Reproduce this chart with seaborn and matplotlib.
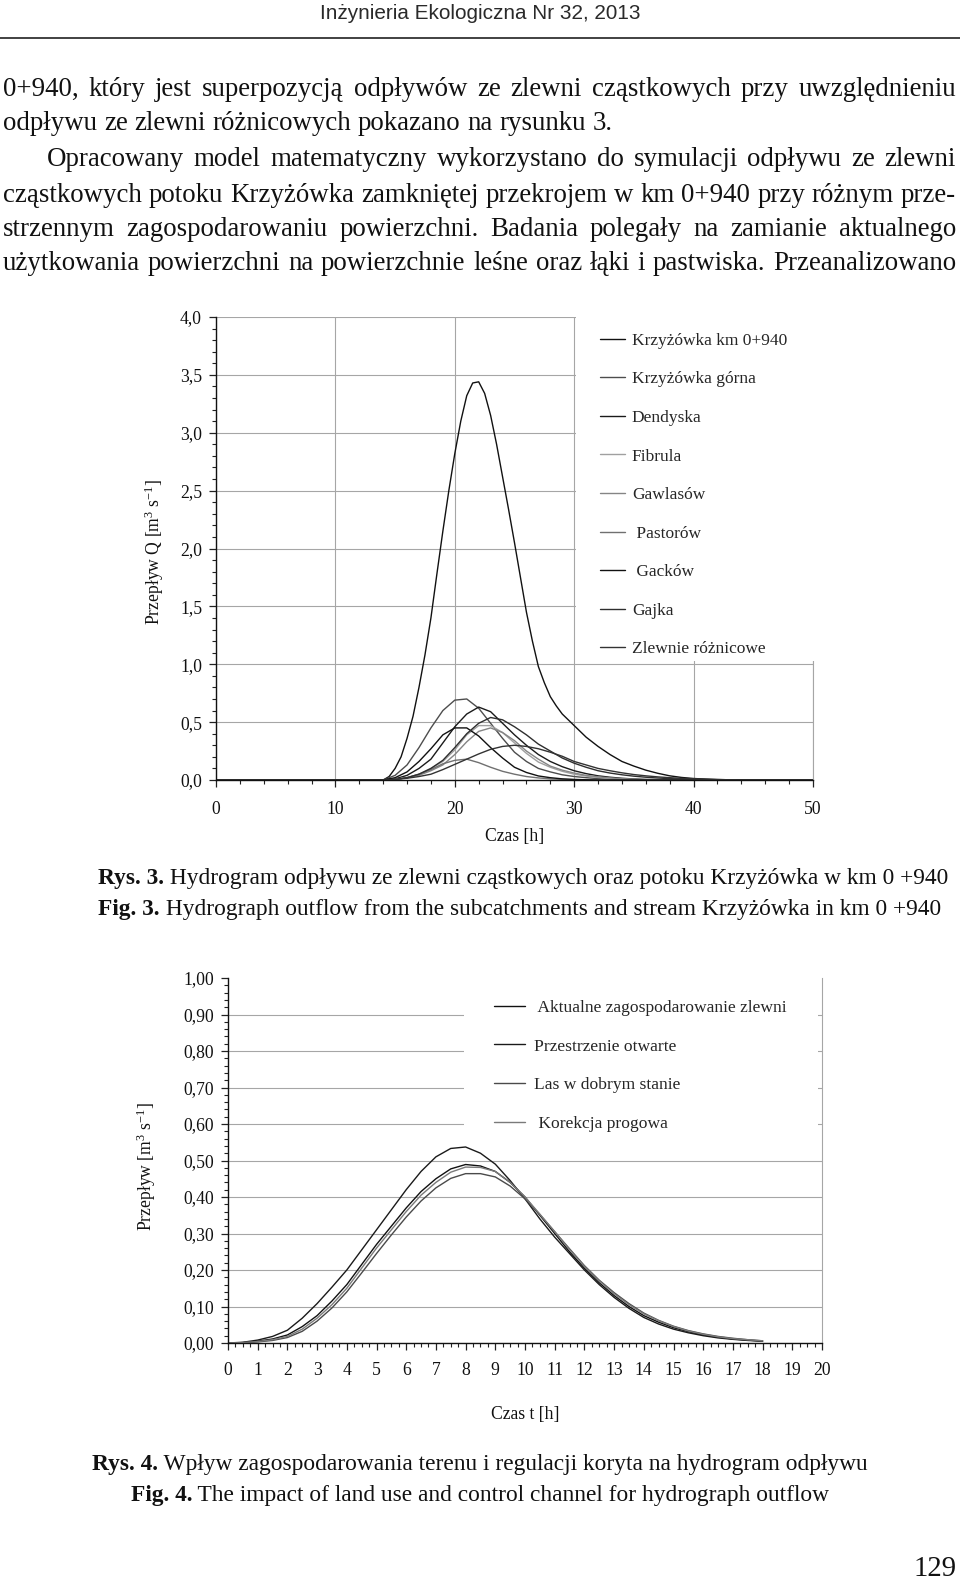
import numpy as np
import pandas as pd
import matplotlib
matplotlib.use("Agg")
import matplotlib.pyplot as plt
import seaborn as sns
from matplotlib.ticker import MultipleLocator, FuncFormatter
from matplotlib.patches import Rectangle
from matplotlib.lines import Line2D

# ---------------- data: Fig. 3 ----------------
T1 = [0, 13, 14, 15, 16, 17, 18, 19, 20, 21, 22, 23, 24, 25, 26, 27, 28, 29, 30,
      31, 32, 33, 34, 35, 36, 37, 38, 39, 40, 41, 42, 43, 44, 45, 50]
T1_MAIN = [0, 13, 14, 14.5, 15, 15.5, 16, 16.5, 17, 17.5, 18, 18.5, 19, 19.5, 20, 20.5, 21, 21.5, 22,
           22.5, 23, 23.5, 24, 24.5, 25, 25.5, 26, 26.5, 27, 27.5, 28, 28.5, 29, 29.5, 30,
           31, 32, 33, 34, 35, 36, 37, 38, 39, 40, 41, 42, 43, 44, 45, 50]
q_km0940 = [0, 0, 0, 0.03, 0.10, 0.20, 0.36, 0.55, 0.80, 1.08, 1.40, 1.78, 2.15, 2.50, 2.82, 3.10, 3.32, 3.43, 3.44,
            3.34, 3.15, 2.90, 2.62, 2.34, 2.05, 1.75, 1.45, 1.20, 0.98, 0.84, 0.72, 0.64, 0.57, 0.52, 0.47,
            0.37, 0.29, 0.22, 0.16, 0.12, 0.085, 0.058, 0.036, 0.022, 0.013, 0.008, 0.004, 0.002, 0, 0, 0]
q_gorna = [0, 0, 0, 0.04, 0.13, 0.28, 0.45, 0.60, 0.69, 0.70, 0.62, 0.49, 0.36, 0.24, 0.16, 0.10, 0.07, 0.045, 0.03,
           0.02, 0.012, 0.007, 0.004, 0.002, 0, 0, 0, 0, 0, 0, 0, 0, 0, 0, 0]
q_dendyska = [0, 0, 0, 0.01, 0.04, 0.10, 0.18, 0.32, 0.46, 0.57, 0.63, 0.59, 0.49, 0.39, 0.30, 0.22, 0.16, 0.115, 0.08,
              0.055, 0.036, 0.024, 0.015, 0.009, 0.005, 0.003, 0, 0, 0, 0, 0, 0, 0, 0, 0]
q_fibrula = [0, 0, 0, 0.005, 0.02, 0.05, 0.10, 0.16, 0.26, 0.39, 0.47, 0.47, 0.41, 0.32, 0.23, 0.155, 0.11, 0.075, 0.05,
             0.034, 0.022, 0.014, 0.008, 0.004, 0, 0, 0, 0, 0, 0, 0, 0, 0, 0, 0]
q_gawlasow = [0, 0, 0, 0.005, 0.02, 0.04, 0.08, 0.13, 0.22, 0.33, 0.42, 0.45, 0.41, 0.34, 0.25, 0.18, 0.12, 0.085, 0.06,
              0.04, 0.028, 0.018, 0.011, 0.006, 0.003, 0, 0, 0, 0, 0, 0, 0, 0, 0, 0]
q_pastorow = [0, 0, 0, 0.005, 0.02, 0.05, 0.09, 0.14, 0.17, 0.18, 0.15, 0.11, 0.075, 0.05, 0.03, 0.018, 0.01, 0.005, 0.002,
              0, 0, 0, 0, 0, 0, 0, 0, 0, 0, 0, 0, 0, 0, 0, 0]
q_gackow = [0, 0, 0, 0.02, 0.07, 0.16, 0.27, 0.39, 0.45, 0.45, 0.38, 0.28, 0.19, 0.11, 0.065, 0.035, 0.02, 0.01, 0.005,
            0.002, 0, 0, 0, 0, 0, 0, 0, 0, 0, 0, 0, 0, 0, 0, 0]
q_gajka = [0, 0, 0, 0.005, 0.02, 0.05, 0.10, 0.17, 0.28, 0.40, 0.49, 0.54, 0.52, 0.46, 0.39, 0.31, 0.25, 0.19, 0.145,
           0.11, 0.08, 0.06, 0.045, 0.033, 0.024, 0.017, 0.012, 0.008, 0.005, 0.003, 0, 0, 0, 0, 0]
q_roznicowe = [0, 0, 0, 0.005, 0.015, 0.03, 0.05, 0.09, 0.135, 0.18, 0.225, 0.265, 0.29, 0.30, 0.29, 0.27, 0.24, 0.205, 0.16,
               0.13, 0.10, 0.08, 0.062, 0.047, 0.036, 0.027, 0.02, 0.014, 0.01, 0.007, 0.004, 0.002, 0, 0, 0]
NAMES1 = ["Krzyżówka km 0+940", "Krzyżówka górna", "Dendyska", "Fibrula", "Gawlasów",
          " Pastorów", " Gacków", "Gajka", "Zlewnie różnicowe"]
SERIES1 = [q_km0940, q_gorna, q_dendyska, q_fibrula, q_gawlasow, q_pastorow, q_gackow, q_gajka, q_roznicowe]
TIMES1 = [T1_MAIN] + [T1] * 8
COLORS1 = ["#111111", "#4d4d4d", "#1a1a1a", "#a0a0a0", "#858585", "#707070", "#111111", "#2e2e2e", "#333333"]
XTICKS1 = [0, 10, 20, 30, 40, 50]
YTICKS1 = [0.0, 0.5, 1.0, 1.5, 2.0, 2.5, 3.0, 3.5, 4.0]

# ---------------- data: Fig. 4 ----------------
T2 = [0, 0.5, 1, 1.5, 2, 2.5, 3, 3.5, 4, 4.5, 5, 5.5, 6, 6.5, 7, 7.5, 8, 8.5, 9, 9.5, 10,
      10.5, 11, 11.5, 12, 12.5, 13, 13.5, 14, 14.5, 15, 15.5, 16, 16.5, 17, 17.5, 18]
q_aktualne = [0, 0.001, 0.005, 0.011, 0.022, 0.045, 0.075, 0.115, 0.16, 0.215, 0.27, 0.32, 0.37, 0.415, 0.45, 0.477,
              0.489, 0.485, 0.47, 0.44, 0.40, 0.35, 0.30, 0.25, 0.205, 0.165, 0.13, 0.10, 0.075, 0.057, 0.042, 0.031,
              0.022, 0.016, 0.011, 0.008, 0.005]
q_otwarte = [0, 0.002, 0.008, 0.018, 0.035, 0.068, 0.108, 0.153, 0.20, 0.255, 0.31, 0.365, 0.42, 0.47, 0.51, 0.533,
             0.537, 0.52, 0.49, 0.445, 0.395, 0.34, 0.29, 0.245, 0.20, 0.16, 0.125, 0.095, 0.07, 0.052, 0.038, 0.028,
             0.02, 0.014, 0.01, 0.007, 0.005]
q_las = [0, 0.001, 0.003, 0.007, 0.015, 0.032, 0.06, 0.096, 0.14, 0.192, 0.245, 0.296, 0.345, 0.389, 0.425, 0.451,
         0.464, 0.464, 0.455, 0.43, 0.395, 0.352, 0.305, 0.258, 0.212, 0.172, 0.138, 0.108, 0.082, 0.062, 0.046, 0.034,
         0.025, 0.018, 0.013, 0.009, 0.006]
q_korekcja = [0, 0.001, 0.004, 0.009, 0.018, 0.038, 0.068, 0.105, 0.15, 0.205, 0.26, 0.31, 0.36, 0.405, 0.44, 0.468,
              0.482, 0.481, 0.47, 0.44, 0.40, 0.353, 0.305, 0.256, 0.21, 0.17, 0.135, 0.105, 0.08, 0.061, 0.045, 0.033,
              0.024, 0.017, 0.012, 0.009, 0.006]
NAMES2 = [" Aktualne zagospodarowanie zlewni", "Przestrzenie otwarte", "Las w dobrym stanie", " Korekcja progowa"]
SERIES2 = [q_aktualne, q_otwarte, q_las, q_korekcja]
COLORS2 = ["#111111", "#1a1a1a", "#4a4a4a", "#7a7a7a"]
XTICKS2 = list(range(0, 21))
YTICKS2 = [0.0, 0.1, 0.2, 0.3, 0.4, 0.5, 0.6, 0.7, 0.8, 0.9, 1.0]

# ---------------- page texts ----------------
HEADER = "Inżynieria Ekologiczna Nr 32, 2013"
BODY = [
    ("0+940, który jest superpozycją odpływów ze zlewni cząstkowych przy uwzględnieniu", 3, True),
    ("odpływu ze zlewni różnicowych pokazano na rysunku 3.", 3, False),
    ("Opracowany model matematyczny wykorzystano do symulacji odpływu ze zlewni", 47, True),
    ("cząstkowych potoku Krzyżówka zamkniętej przekrojem w km 0+940 przy różnym prze-", 3, True),
    ("strzennym zagospodarowaniu powierzchni. Badania polegały na zamianie aktualnego", 3, True),
    ("użytkowania powierzchni na powierzchnie leśne oraz łąki i pastwiska. Przeanalizowano", 3, True),
]
CAP3 = [("Rys. 3.", " Hydrogram odpływu ze zlewni cząstkowych oraz potoku Krzyżówka w km 0 +940"),
        ("Fig. 3.", " Hydrograph outflow from the subcatchments and stream Krzyżówka in km 0 +940")]
CAP4 = [("Rys. 4.", " Wpływ zagospodarowania terenu i regulacji koryta na hydrogram odpływu"),
        ("Fig. 4.", " The impact of land use and control channel for hydrograph outflow")]
PAGE_NO = "129"

# ---------------- style ----------------
sns.set_style("ticks")
SERIF = ["Liberation Serif", "DejaVu Serif"]
SANS = ["Liberation Sans", "DejaVu Sans"]
plt.rcParams["font.family"] = SERIF
plt.rcParams["mathtext.fontset"] = "custom"
plt.rcParams["mathtext.rm"] = "Liberation Serif"
plt.rcParams["mathtext.it"] = "Liberation Serif:italic"
plt.rcParams["mathtext.bf"] = "Liberation Serif:bold"

W, H = 960, 1581
fig = plt.figure(figsize=(W / 100, H / 100), dpi=100)
fig.patch.set_facecolor("white")
renderer = fig.canvas.get_renderer()


def fx(x):
    return x / W


def fy(y):
    return 1 - y / H


def tw(s, size, weight="normal", family=SERIF):
    t = fig.text(0, 0, s, fontsize=size, fontweight=weight, family=family)
    w = t.get_window_extent(renderer=renderer).width
    t.remove()
    return w


TXT = "#111111"

# header
hs = 20 * 321 / tw(HEADER, 20, family=SANS)
fig.text(fx(480), fy(19), HEADER, fontsize=hs, family=SANS, ha="center", va="baseline", color="#2a2a2a")
fig.add_artist(Line2D([0, 1], [fy(37.5), fy(37.5)], transform=fig.transFigure, color="#333333", lw=1.3))

# body text, justified
X_RIGHT = 956
REF = 20
sp = tw("a a", REF) - tw("aa", REF)
fits = []
for s, x0, j in BODY:
    if j:
        words = s.split(" ")
        nat = sum(tw(w, REF) for w in words) + sp * (len(words) - 1)
        fits.append((X_RIGHT - x0) / nat)
bsize = REF * min(fits)
BASES = [96, 130, 166, 201.5, 236, 270.5]
for (s, x0, j), yb in zip(BODY, BASES):
    words = s.split(" ")
    ws = [tw(w, bsize) for w in words]
    if j:
        gap = (X_RIGHT - x0 - sum(ws)) / (len(words) - 1)
    else:
        gap = sp * bsize / REF
    x = x0
    for w, wd in zip(words, ws):
        fig.text(fx(x), fy(yb), w, fontsize=bsize, ha="left", va="baseline", color=TXT)
        x += wd + gap

# captions
b0, r0 = CAP3[0]
csize = REF * (946 - 98) / (tw(b0, REF, "bold") + tw(r0, REF))


def caption(bold, rest, y, x_left=None, x_center=None):
    wb = tw(bold, csize, "bold")
    wr = tw(rest, csize)
    if x_left is None:
        x_left = x_center - (wb + wr) / 2
    fig.text(fx(x_left), fy(y), bold, fontsize=csize, fontweight="bold", ha="left", va="baseline", color=TXT)
    fig.text(fx(x_left + wb), fy(y), rest, fontsize=csize, ha="left", va="baseline", color=TXT)


caption(*CAP3[0], 884, x_left=98)
caption(*CAP3[1], 915.5, x_left=98)
caption(*CAP4[0], 1470, x_center=480)
caption(*CAP4[1], 1501, x_center=480)

ps = REF * 43 / tw(PAGE_NO, REF)
fig.text(fx(956), fy(1576), PAGE_NO, fontsize=ps, ha="right", va="baseline", color=TXT)

FS = 12.7


def comma(fmt):
    return FuncFormatter(lambda v, p: fmt.format(v).replace(".", ","))


# ---------------- chart 1 ----------------
ax1 = fig.add_axes([fx(216), fy(780), (813 - 216) / W, (780 - 317) / H])
df1 = pd.DataFrame({
    "t": np.concatenate([np.asarray(t, float) for t in TIMES1]),
    "Q": np.concatenate([np.asarray(s, float) for s in SERIES1]),
    "seria": np.concatenate([[n] * len(t) for n, t in zip(NAMES1, TIMES1)]),
})
sns.lineplot(data=df1, x="t", y="Q", hue="seria", hue_order=NAMES1,
             palette=dict(zip(NAMES1, COLORS1)), estimator=None, sort=False,
             lw=1.0, ax=ax1, legend=True)
ax1.set_xlim(0, 50)
ax1.set_ylim(0, 4.0)
ax1.set_xticks(XTICKS1)
ax1.set_yticks(YTICKS1)
ax1.xaxis.set_major_formatter(comma("{:.0f}"))
ax1.yaxis.set_major_formatter(comma("{:.1f}"))
ax1.xaxis.set_minor_locator(MultipleLocator(2))
ax1.yaxis.set_minor_locator(MultipleLocator(0.1))
ax1.set_axisbelow(True)
ax1.grid(True, which="major", color="#a6a6a6", lw=0.8)
ax1.tick_params(which="major", direction="out", length=5, width=0.9, color="#222", labelsize=FS, labelcolor=TXT)
ax1.tick_params(axis="y", which="major", pad=5)
ax1.tick_params(axis="x", which="major", pad=10)
ax1.tick_params(which="minor", direction="out", length=3, width=0.8, color="#222")
for side in ["left", "bottom"]:
    ax1.spines[side].set_color("#111")
    ax1.spines[side].set_linewidth(1.0)
ax1.spines["top"].set_visible(False)
ax1.spines["right"].set_color("#a6a6a6")
ax1.spines["right"].set_linewidth(0.8)
ax1.add_patch(Rectangle((30.15, 1.03), 22, 3.3, facecolor="white", edgecolor="none", zorder=2.6, clip_on=False))
ax1.set_xlabel("Czas [h]", fontsize=FS, color=TXT)
ax1.set_ylabel("Przepływ Q [m$^{3}$ s$^{-1}$]", fontsize=FS, color=TXT)
ax1.xaxis.set_label_coords(0.5, -0.104)
ax1.yaxis.set_label_coords(-0.084, 0.492)
sns.move_legend(ax1, "upper left", bbox_to_anchor=(0.643, 0.966), frameon=False, title=None,
                fontsize=12.5, handlelength=1.44, handletextpad=0.4, labelspacing=1.29,
                borderaxespad=0, borderpad=0)

# ---------------- chart 2 ----------------
TOP2, BOT2 = 978, 1343
ax2 = fig.add_axes([fx(228), fy(BOT2), 594 / W, (BOT2 - TOP2) / H])
df2 = pd.DataFrame({
    "t": np.tile(np.asarray(T2, float), len(NAMES2)),
    "Q": np.concatenate([np.asarray(s, float) for s in SERIES2]),
    "wariant": np.repeat(NAMES2, len(T2)),
})
sns.lineplot(data=df2, x="t", y="Q", hue="wariant", hue_order=NAMES2,
             palette=dict(zip(NAMES2, COLORS2)), estimator=None, sort=False,
             lw=1.0, ax=ax2, legend=True)
ax2.set_xlim(0, 20)
ax2.set_ylim(0, 1.0)
ax2.set_xticks(XTICKS2)
ax2.set_yticks(YTICKS2)
ax2.xaxis.set_major_formatter(comma("{:.0f}"))
ax2.yaxis.set_major_formatter(comma("{:.2f}"))
ax2.xaxis.set_minor_locator(MultipleLocator(0.25))
ax2.yaxis.set_minor_locator(MultipleLocator(0.02))
ax2.set_axisbelow(True)
ax2.yaxis.grid(True, which="major", color="#a6a6a6", lw=0.8)
ax2.xaxis.grid(False)
gl = ax2.yaxis.get_gridlines()
if len(gl):
    gl[-1].set_visible(False)
ax2.tick_params(which="major", direction="out", length=5, width=0.9, color="#222", labelsize=FS, labelcolor=TXT)
ax2.tick_params(axis="y", which="major", pad=5)
ax2.tick_params(axis="x", which="major", pad=9)
ax2.tick_params(which="minor", direction="out", length=3, width=0.8, color="#222")
for side in ["left", "bottom"]:
    ax2.spines[side].set_color("#111")
    ax2.spines[side].set_linewidth(1.0)
ax2.spines["top"].set_visible(False)
ax2.spines["right"].set_color("#a6a6a6")
ax2.spines["right"].set_linewidth(0.8)
ax2.add_patch(Rectangle((7.95, 0.52), 11.9, 0.5, facecolor="white", edgecolor="none", zorder=0.8, clip_on=False))
ax2.set_xlabel("Czas t [h]", fontsize=FS, color=TXT)
ax2.set_ylabel("Przepływ [m$^{3}$ s$^{-1}$]", fontsize=FS, color=TXT)
ax2.xaxis.set_label_coords(0.5, -(1406 - BOT2) / (BOT2 - TOP2))
ax2.yaxis.set_label_coords(-0.118, (BOT2 - 1167) / (BOT2 - TOP2))
sns.move_legend(ax2, "upper left", bbox_to_anchor=(0.448, (BOT2 - 999.5) / (BOT2 - TOP2)), frameon=False,
                title=None, fontsize=12.6, handlelength=1.75, handletextpad=0.55, labelspacing=1.29,
                borderaxespad=0, borderpad=0)

fig.savefig("out.png", dpi=100, facecolor="white")
